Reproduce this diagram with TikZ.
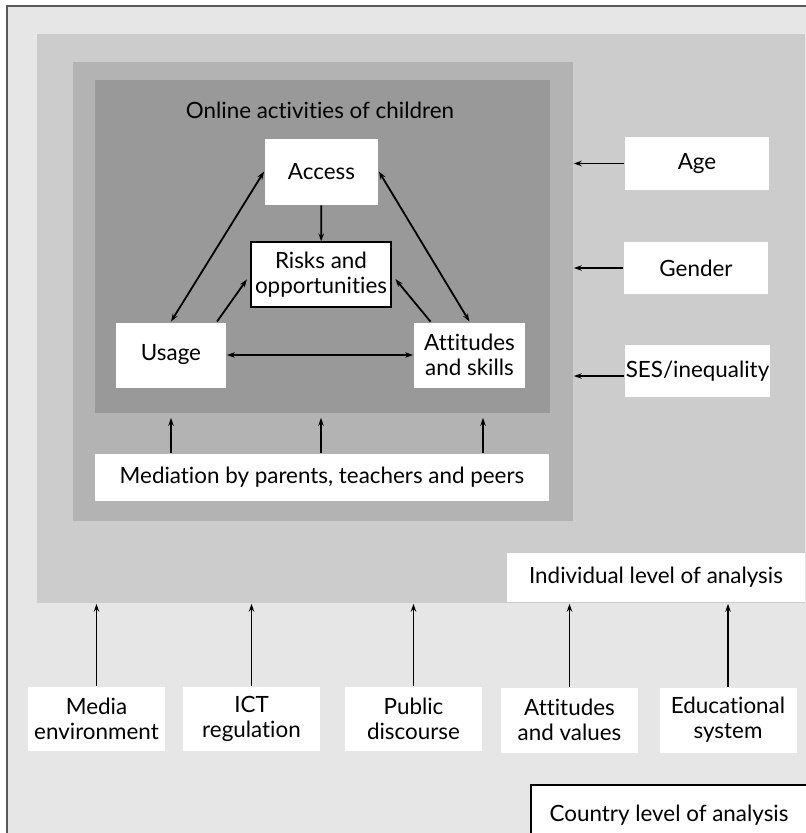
\documentclass[tikz,border=0pt]{standalone}
\usepackage{fontspec}
\setmainfont{Lato}[Ligatures={NoCommon}]
\usepackage{tikz}
\usetikzlibrary{calc,positioning,arrows.meta}
\usepackage{color}
\definecolor{outerfill}{HTML}{E6E6E6}
\definecolor{levelfill}{HTML}{CCCCCC}
\definecolor{midfill}{HTML}{B3B3B3}
\definecolor{innerfill}{HTML}{999999}
\definecolor{framegray}{HTML}{5A5A5A}

\begin{document}
\begin{tikzpicture}
      [x=1pt,y=-1pt,line width=1.8pt,>={Stealth[length=8pt,width=5.5pt]},
      every node/.style={align=center,font=\fontsize{22.4}{25}\selectfont},
      layer/.style={anchor=north west,inner sep=0pt},
      box/.style={fill=white,inner sep=0pt}]
      \useasboundingbox (0,0) rectangle (806,833);
      \clip (0,0) rectangle (806,833);
      \draw[draw=framegray,line width=2pt,fill=outerfill] (7,6) rectangle (850,860);
      \node[layer,fill=levelfill,minimum width=768pt,minimum height=569pt] (individual) at (36,33) {};
      \node[layer,fill=midfill,minimum width=500pt,minimum height=459pt] (medium) at (72,61) {};
      \node[layer,fill=innerfill,minimum width=455pt,minimum height=333pt] (inner) at (94,79) {};
      \node (title) at (320,110) {Online activities of children};
      \node[box,minimum width=113pt,minimum height=66pt] (access) at (321.5,171.5) {Access};
      \node[box,draw=black,line width=1.2pt,minimum width=140pt,minimum height=65pt] (risks) at (321,274.5) {Risks and\\opportunities};
      \node[box,minimum width=110pt,minimum height=65pt] (usage) at (171,355) {Usage};
      \node[box,minimum width=111pt,minimum height=65pt] (attitudes) at (469.5,355) {Attitudes\\and skills};
      \node[box,minimum width=454pt,minimum height=47pt] (mediation) at (322,477.5) {Mediation by parents, teachers and peers};
      \node[box,minimum width=144pt,minimum height=53pt] (age) at (697,163.5) {Age};
      \node[box,minimum width=144pt,minimum height=52pt] (gender) at (696,268) {Gender};
      \node[box,minimum width=145pt,minimum height=52pt] (ses) at (697.5,371) {SES/inequality};
      \node[box,minimum width=298pt,minimum height=49pt] (indlabel) at (656,577.5) {Individual level of analysis};
      \node[box,minimum width=137pt,minimum height=64pt] (media) at (96.5,719) {Media\\environment};
      \node[box,minimum width=137pt,minimum height=64pt] (ict) at (251.5,719) {ICT\\regulation};
      \node[box,minimum width=137pt,minimum height=64pt] (public) at (413.5,719) {Public\\discourse};
      \node[box,minimum width=137pt,minimum height=65pt] (attval) at (569.5,720) {Attitudes\\and values};
      \node[box,minimum width=137pt,minimum height=65pt] (edu) at (728,720) {Educational\\system};
      \node[box,draw=black,line width=1.2pt,minimum width=276pt,minimum height=60pt] (country) at (669,815) {Country level of analysis};

      \draw[<->] (usage.north) -- (access.west);
      \draw[<->] (attitudes.north) -- (access.east);
      \draw[->] (access) -- (risks);
      \draw[->,shorten >=6pt] ([xshift=46pt]usage.north) -- (risks.west);
      \draw[->,shorten >=6pt] ([xshift=-39pt]attitudes.north) -- (risks.east);
      \draw[<->] (usage) -- (attitudes);
      \foreach \dx in {-151,-1,161}
        \draw[->,shorten >=4pt] ([xshift=\dx pt]mediation.north) -- ([xshift=\dx pt]mediation.north |- inner.south);
      \foreach \n in {age,gender}
        \draw[->] (\n.west) -- (\n.west -| medium.east);
      \draw[->,line width=1.2pt] ([yshift=-5pt]ses.west) -- ([yshift=-5pt]ses.west -| medium.east);
      \foreach \n in {media,ict,public,attval,edu}
        \draw[->] (\n.north) -- (\n.north |- individual.south);
\end{tikzpicture}
\end{document}
